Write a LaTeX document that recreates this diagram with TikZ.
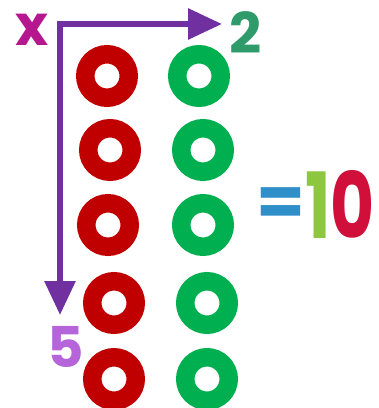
\documentclass[tikz,border=0pt]{standalone}
\usepackage{fontspec}
\usepackage{xcolor}
\usepackage{tikz}
\usetikzlibrary{arrows.meta,positioning}

\newfontfamily\bubble{Poppins}

\definecolor{ringred}{HTML}{C00000}
\definecolor{ringgreen}{HTML}{00B050}
\definecolor{arrowpurple}{HTML}{7030A0}
\definecolor{timesmagenta}{HTML}{B5178E}
\definecolor{twogreen}{HTML}{2F9A6A}
\definecolor{fivepurple}{HTML}{B565D9}
\definecolor{eqblue}{HTML}{2F8FC8}
\definecolor{onelime}{HTML}{8DC63F}
\definecolor{zerocrimson}{HTML}{D0103A}

\tikzset{
  ring/.style={circle, draw=#1, line width=0.37cm, minimum size=0.87cm, inner sep=0pt},
  digit/.style={font=\bubble\bfseries\fontsize{32}{32}\selectfont, inner sep=0pt}
}

\begin{document}
\begin{tikzpicture}[x=0.02cm, y=-0.02cm]
  \useasboundingbox (0,0) rectangle (378,408);

  % Rings: red column and green column
  \foreach \i/\xr/\xg/\y in {1/107/199/76, 2/110/203/150, 3/108/203/225, 4/114/207/303, 5/114/207/379} {
    \node[ring=ringred] (red\i) at (\xr,\y) {};
    \node[ring=ringgreen] (green\i) at (\xg,\y) {};
  }

  % Factors
  \node[digit, text=timesmagenta] (times) at (32,30) {x};
  \node[digit, text=twogreen] (two) at (246,33) {2};
  \node[digit, text=fivepurple] (five) at (66,347) {5};

  % Axes
  \coordinate (corner) at (60,24);
  \coordinate (rowend) at (222,24);
  \coordinate (colend) at (60,315);
  \draw[arrowpurple, line width=0.12cm, line join=miter,
        {Triangle[length=0.68cm, width=0.6cm]}-{Triangle[length=0.68cm, width=0.6cm]}]
        (colend) -- (corner) -- (rowend);

  % Result
  \node[font=\bubble\bfseries\fontsize{40}{40}\selectfont, text=eqblue, inner sep=0pt] (equals) at (281,207) {=};
  \node[font=\bubble\bfseries\fontsize{52}{52}\selectfont, inner sep=0pt, anchor=west, xscale=0.74] (ten) at (305,204)
        {\textcolor{onelime}{1}\textcolor{zerocrimson}{0}};
\end{tikzpicture}
\end{document}
